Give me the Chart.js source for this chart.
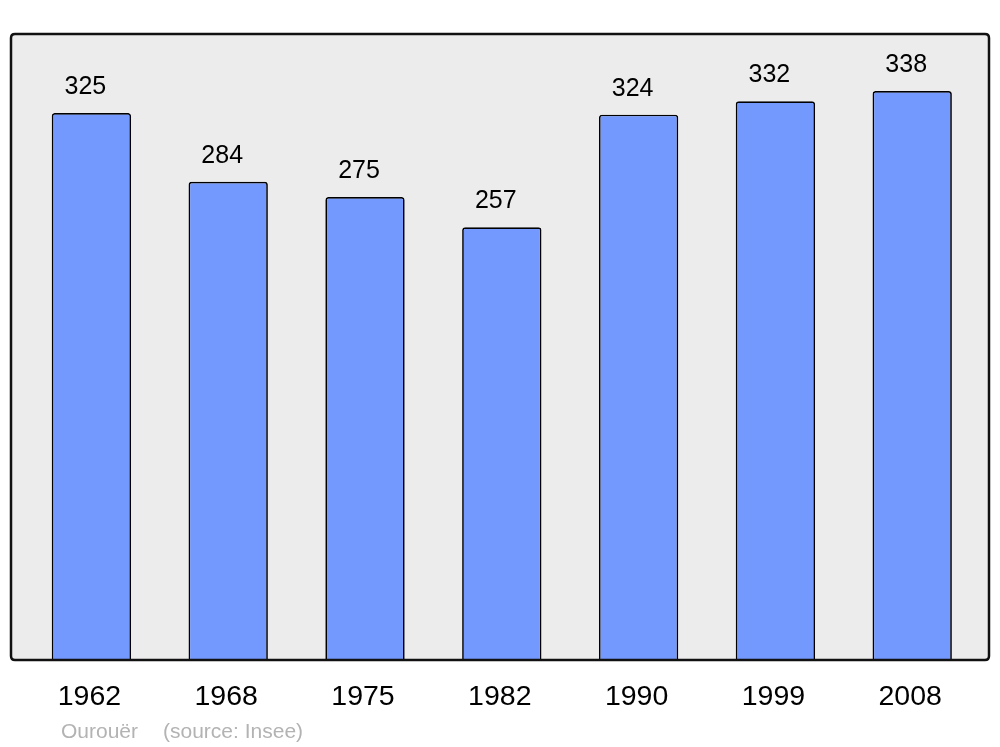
<!DOCTYPE html>
<html>
<head>
<meta charset="utf-8">
<script src="https://cdn.jsdelivr.net/npm/chart.js@4.4.1/dist/chart.umd.min.js"></script>
<style>
  html, body { margin: 0; padding: 0; background: #ffffff; }
  #wrap { width: 1000px; height: 747px; }
</style>
</head>
<body>
<div id="wrap"><canvas id="c" width="1000" height="747"></canvas></div>
<script>
const categories = ['1962', '1968', '1975', '1982', '1990', '1999', '2008'];
const population = [325, 284, 275, 257, 324, 332, 338];
const placeName = 'Ourouër';
const sourceText = '(source: Insee)';

const FONT = '"Liberation Sans", Arial, Helvetica, sans-serif';

function boxPath(ctx, x0, y0, x1, y1, r) {
  ctx.beginPath();
  ctx.moveTo(x0 + r, y0);
  ctx.lineTo(x1 - r, y0);
  ctx.quadraticCurveTo(x1, y0, x1, y0 + r);
  ctx.lineTo(x1, y1 - r);
  ctx.quadraticCurveTo(x1, y1, x1 - r, y1);
  ctx.lineTo(x0 + r, y1);
  ctx.quadraticCurveTo(x0, y1, x0, y1 - r);
  ctx.lineTo(x0, y0 + r);
  ctx.quadraticCurveTo(x0, y0, x0 + r, y0);
  ctx.closePath();
}

const decorPlugin = {
  id: 'decor',
  beforeDraw(chart) {
    const ctx = chart.ctx;
    const a = chart.chartArea;
    ctx.save();
    ctx.fillStyle = '#ffffff';
    ctx.fillRect(0, 0, chart.width, chart.height);
    boxPath(ctx, a.left - 12, a.top, a.right + 8.4, a.bottom + 1, 4);
    ctx.fillStyle = '#ececec';
    ctx.fill();
    ctx.restore();
  },
  afterDatasetsDraw(chart) {
    const ctx = chart.ctx;
    const a = chart.chartArea;
    ctx.save();
    boxPath(ctx, a.left - 12, a.top, a.right + 8.4, a.bottom + 1, 4);
    ctx.lineWidth = 2.5;
    ctx.strokeStyle = '#111111';
    ctx.stroke();

    // value labels
    const meta = chart.getDatasetMeta(0);
    ctx.fillStyle = '#000000';
    ctx.textAlign = 'center';
    ctx.textBaseline = 'alphabetic';
    ctx.font = '25px ' + FONT;
    meta.data.forEach((bar, i) => {
      ctx.fillText(String(population[i]), bar.x - 6, bar.y - 19);
    });

    // category labels
    const xs = chart.scales.x;
    ctx.font = '28.5px ' + FONT;
    categories.forEach((c, i) => {
      ctx.fillText(c, xs.getPixelForValue(i) - 2, 705);
    });

    // footer
    ctx.textAlign = 'left';
    ctx.font = '21px ' + FONT;
    ctx.fillStyle = '#b3b3b3';
    ctx.fillText(placeName, 61, 738);
    ctx.fillText(sourceText, 163, 738);
    ctx.restore();
  }
};

new Chart(document.getElementById('c'), {
  type: 'bar',
  data: {
    labels: categories,
    datasets: [{
      data: population,
      backgroundColor: '#7399ff',
      borderColor: '#000000',
      borderWidth: 1.7,
      borderSkipped: 'bottom',
      borderRadius: { topLeft: 3, topRight: 3, bottomLeft: 0, bottomRight: 0 },
      barPercentage: 0.58,
      categoryPercentage: 1.0
    }]
  },
  options: {
    responsive: false,
    animation: false,
    layout: { padding: { left: 23, right: 19.4, top: 34, bottom: 88 } },
    plugins: { legend: { display: false }, tooltip: { enabled: false } },
    scales: {
      x: { display: false },
      y: { display: false, min: 0, max: 372 }
    }
  },
  plugins: [decorPlugin]
});
</script>
</body>
</html>
